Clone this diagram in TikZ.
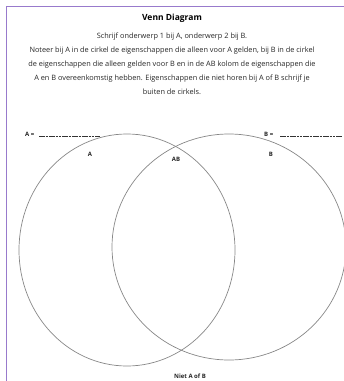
\documentclass[tikz,border=0pt]{standalone}
\usepackage{fontspec}
\setmainfont{Open Sans}
\definecolor{frame}{RGB}{152,122,204}
\definecolor{ring}{RGB}{135,135,135}
\begin{document}
\begin{tikzpicture}[x=1pt,y=-1pt,
  txt/.style={inner sep=0pt,font=\fontsize{7.35}{14}\selectfont,text=black!85},
  lbl/.style={inner sep=0pt,font=\fontsize{6}{7}\selectfont\bfseries,text=black!85},
  blank/.style={draw=black!80,line width=0.45pt,dash pattern=on 2.6pt off 0.7pt},
  ring/.style={draw=ring,line width=0.7pt}]
\useasboundingbox (0,0) rectangle (344,381);
\draw[frame,line width=1.6pt] (6.5,381) -- (6.5,6.5) -- (344,6.5);
\node[inner sep=0pt,font=\fontsize{8.5}{10}\selectfont\bfseries] (title) at (172,18) {Venn Diagram};
\node[txt,align=center] (body) at (172,64) {Schrijf onderwerp 1 bij A, onderwerp 2 bij B.\\
Noteer bij A in de cirkel de eigenschappen die alleen voor A gelden, bij B in de cirkel\\
de eigenschappen die alleen gelden voor B en in de AB kolom de eigenschappen die\\
A en B overeenkomstig hebben. Eigenschappen die niet horen bij A of B schrijf je\\
buiten de cirkels.};
\draw[ring] (127,250) ellipse [x radius=108, y radius=116];
\draw[ring] (229,247) ellipse [x radius=117, y radius=113];
\node[lbl,anchor=west] (la) at (25,134) {A =};
\coordinate (la1) at (39,136);
\coordinate (la2) at (100,136);
\draw[blank] (la1) -- (la2);
\node[lbl,anchor=west] (lb) at (264,134) {B =};
\coordinate (lb1) at (280,136);
\coordinate (lb2) at (342,136);
\draw[blank] (lb1) -- (lb2);
\node[lbl] (a) at (90,154) {A};
\node[lbl] (ab) at (176,159) {AB};
\node[lbl] (b) at (271,154) {B};
\node[lbl] (n) at (190,376) {Niet A of B};
\end{tikzpicture}
\end{document}
